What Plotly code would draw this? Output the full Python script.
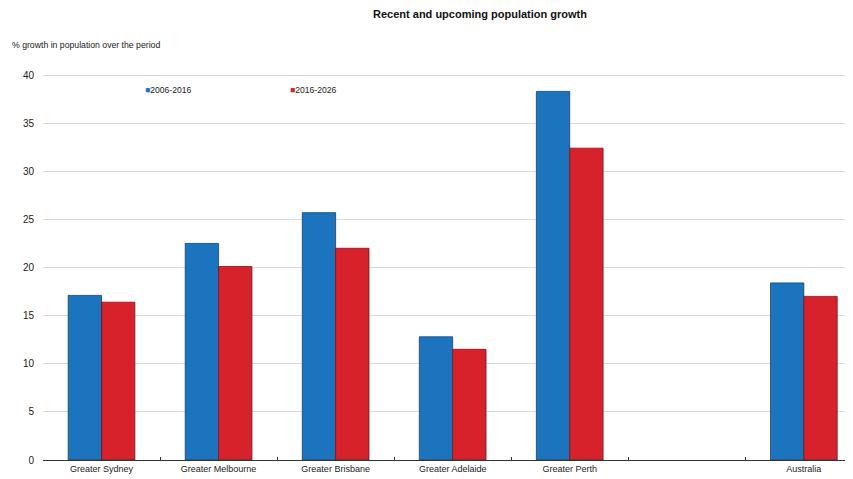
import plotly.graph_objects as go

categories = ["Greater Sydney", "Greater Melbourne", "Greater Brisbane", "Greater Adelaide", "Greater Perth", " ", "Australia"]
growth_2006_2016 = [17.1, 22.5, 25.7, 12.8, 38.3, None, 18.4]
growth_2016_2026 = [16.4, 20.1, 22.0, 11.5, 32.4, None, 17.0]
series_names = ["2006-2016", "2016-2026"]
y_ticks = [0, 5, 10, 15, 20, 25, 30, 35, 40]
colors = ["#1C74BF", "#D8222B"]

FONT = "Liberation Sans, Arial, sans-serif"

fig = go.Figure()
fig.add_trace(go.Bar(x=categories, y=growth_2006_2016, name=series_names[0],
                     marker=dict(color=colors[0], line=dict(color="#1d3f66", width=0.8))))
fig.add_trace(go.Bar(x=categories, y=growth_2016_2026, name=series_names[1],
                     marker=dict(color=colors[1], line=dict(color="#6b1a1e", width=0.8))))

W, H = 845, 471
L, T, B = 35, 65, 19

fig.update_layout(
    width=W, height=H,
    margin=dict(l=L, r=0, t=T, b=B),
    plot_bgcolor="white", paper_bgcolor="white",
    barmode="group", bargap=0.43, bargroupgap=0,
    font=dict(family=FONT, size=10, color="#222222"),
    showlegend=False,
    title=dict(text="<b>Recent and upcoming population growth</b>", x=472 / W, xanchor="center",
               y=1 - 6 / H, yanchor="middle", yref="container",
               font=dict(size=11, color="#111111")),
    annotations=[
        dict(text="% growth in population over the period", xref="paper", yref="paper",
             x=-0.0407, y=1.072, xanchor="left", yanchor="middle", showarrow=False,
             font=dict(size=8.7, color="#222222")),
        dict(text=f"<span style='color:{colors[0]}'>■</span>{series_names[0]}", xref="paper", yref="paper",
             x=0.124, y=0.956, xanchor="left", yanchor="middle", showarrow=False,
             font=dict(size=8.6, color="#222222")),
        dict(text=f"<span style='color:{colors[1]}'>■</span>{series_names[1]}", xref="paper", yref="paper",
             x=0.303, y=0.956, xanchor="left", yanchor="middle", showarrow=False,
             font=dict(size=8.6, color="#222222")),
    ],
)

fig.update_xaxes(type="category", categoryorder="array", categoryarray=categories,
                 range=[-0.5, 6.42],
                 showline=True, linecolor="#333333", linewidth=1,
                 ticks="inside", tickson="boundaries", ticklen=3, tickcolor="#333333",
                 showgrid=False, tickfont=dict(size=9))
fig.update_yaxes(range=[0, 40.21], tickvals=y_ticks, showgrid=True, gridcolor="#d9d9d9",
                 gridwidth=1, zeroline=False, showline=False, ticks="", ticklabelstandoff=8,
                 tickfont=dict(size=10))

fig.write_html("out.html")
